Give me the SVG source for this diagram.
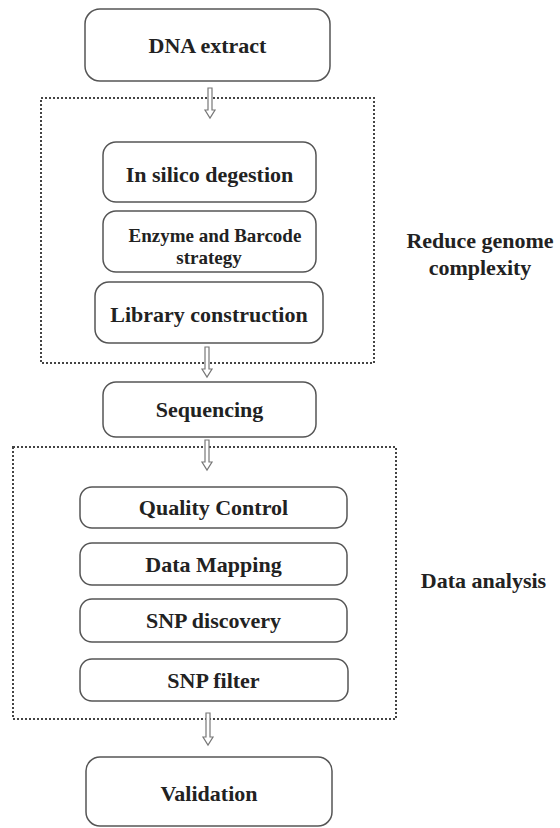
<svg xmlns="http://www.w3.org/2000/svg" width="560" height="828" viewBox="0 0 560 828">
<style>
.box{fill:#fff;stroke:#555;stroke-width:1.5}
.grp{fill:none;stroke:#444;stroke-width:2;stroke-dasharray:2 2}
.arr{fill:#fff;stroke:#777;stroke-width:1.2;stroke-linejoin:miter}
text{font-family:"Liberation Serif","Times New Roman",serif;font-weight:bold;fill:#222;text-anchor:middle;font-size:22px}
.sm{font-size:19px}
</style>
<rect width="560" height="828" fill="#fff"/>
<g id="groups">
<rect id="reduce-box" class="grp" x="41" y="98" width="333" height="265"/>
<rect id="analysis-box" class="grp" x="13" y="447" width="383" height="272"/>
</g>
<g id="connectors">
<path class="arr" d="M208,88 L212,88 L212,110 L215,110 L210,118 L205,110 L208,110 Z"/>
<path class="arr" d="M205,347 L209,347 L209,369 L212,369 L207,377 L202,369 L205,369 Z"/>
<path class="arr" d="M205,440 L209,440 L209,462 L212,462 L207,470 L202,462 L205,462 Z"/>
<path class="arr" d="M206,713 L210,713 L210,737 L213,737 L208,745 L203,737 L206,737 Z"/>
</g>
<g id="dna"><rect class="box" x="85" y="9" width="245" height="72" rx="15"/><text x="207.5" y="53">DNA extract</text></g>
<g id="insilico"><rect class="box" x="103" y="142" width="213" height="60" rx="13"/><text x="209.5" y="182">In silico degestion</text></g>
<g id="enzyme"><rect class="box" x="103" y="211" width="213" height="61" rx="13"/><text class="sm" x="215" y="242">Enzyme and Barcode</text><text class="sm" x="209" y="264">strategy</text></g>
<g id="library"><rect class="box" x="95" y="282" width="228" height="61" rx="14"/><text x="209" y="322">Library construction</text></g>
<g id="sequencing"><rect class="box" x="103" y="382" width="213" height="55" rx="13"/><text x="209.5" y="417">Sequencing</text></g>
<g id="qc"><rect class="box" x="80" y="487" width="267" height="41" rx="12"/><text x="213.5" y="515">Quality Control</text></g>
<g id="mapping"><rect class="box" x="80" y="543" width="267" height="42" rx="12"/><text x="213.5" y="572">Data Mapping</text></g>
<g id="discovery"><rect class="box" x="80" y="599" width="267" height="43" rx="12"/><text x="213.5" y="628">SNP discovery</text></g>
<g id="filter"><rect class="box" x="80" y="659" width="268" height="42" rx="12"/><text x="213.5" y="688">SNP filter</text></g>
<g id="validation"><rect class="box" x="86" y="757" width="246" height="69" rx="14"/><text x="209" y="801">Validation</text></g>
<g id="label-reduce"><text x="480" y="248">Reduce genome</text><text x="480" y="275">complexity</text></g>
<g id="label-analysis"><text x="483.5" y="588">Data analysis</text></g>
</svg>
